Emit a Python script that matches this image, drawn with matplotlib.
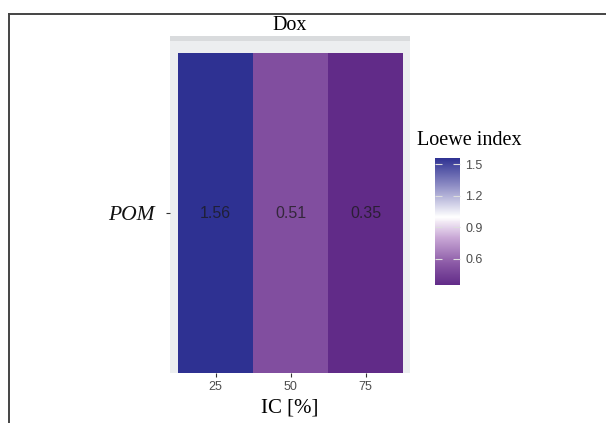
import numpy as np
import matplotlib
matplotlib.use("Agg")
import matplotlib.pyplot as plt
from matplotlib.colors import LinearSegmentedColormap, Normalize
from matplotlib.patches import Rectangle
from matplotlib.lines import Line2D
import matplotlib.colorbar as mcolorbar

# data
ic_levels = ["25", "50", "75"]
drug_row = ["POM"]
loewe = [1.56, 0.51, 0.35]
cbar_ticks = [0.6, 0.9, 1.2, 1.5]

W, H = 606, 423
fig = plt.figure(figsize=(W / 100, H / 100), dpi=100)

# colour scale: purple (low) -> white (1) -> indigo (high)
vmin, vmax = min(loewe), max(loewe)
norm = Normalize(vmin=vmin, vmax=vmax)
anchors = [(vmin, "#612b88"), (0.55, "#8a58a5"), (0.8, "#c9a8d6"),
           (1.0, "#ffffff"), (1.3, "#8d8cc4"), (vmax, "#2e3192")]
cmap = LinearSegmentedColormap.from_list(
    "loewe", [(float(norm(v)), c) for v, c in anchors])

def fx(px):
    return px / W

def fy(py):
    return 1 - py / H

# outer frame (top and left lines only)
fig.add_artist(Line2D([fx(9), 1], [fy(14), fy(14)], color="#444444", lw=1.4))
fig.add_artist(Line2D([fx(9), fx(9)], [fy(14), 0], color="#444444", lw=1.4))

# panel
ax = fig.add_axes([fx(170), fy(373), fx(410) - fx(170), fy(40) - fy(373)])
ax.set_facecolor("#eceef0")
x_edges = np.arange(len(ic_levels) + 1) + 0.5
y_edges = np.array([0.5, 1.5])
ax.pcolormesh(x_edges, y_edges, np.array([loewe]), cmap=cmap, norm=norm)
for i, v in enumerate(loewe):
    ax.text(i + 1, 1, f"{v:.2f}", ha="center", va="center", fontsize=11.5,
            color="#1a1a1a", alpha=0.75, family="Liberation Sans")
ax.set_xlim(0.393, 3.593)
ax.set_ylim(0.5, 1.541)
for s in ax.spines.values():
    s.set_visible(False)
ax.set_xticks(range(1, len(ic_levels) + 1))
ax.set_xticklabels(ic_levels, fontsize=9, color="#4d4d4d", family="Liberation Sans")
ax.set_yticks([1])
ax.set_yticklabels(drug_row, fontsize=15.5, style="italic", family="Liberation Serif",
                   color="#111111")
ax.tick_params(axis="x", length=3, color="#333333", pad=3)
ax.tick_params(axis="y", length=3, color="#333333", pad=8)
ax.set_xlabel("IC [%]", fontsize=15, family="Liberation Serif", labelpad=4)

# facet strip
fig.add_artist(Rectangle((fx(170), fy(41)), fx(410) - fx(170), fy(36) - fy(41),
                         transform=fig.transFigure, color="#d9dbdd", lw=0))
fig.text(fx(290), fy(25), "Dox", ha="center", va="center", fontsize=14.5,
         family="Liberation Serif")

# colour bar
cax = fig.add_axes([fx(435), fy(285), fx(460) - fx(435), fy(158) - fy(285)])
cb = mcolorbar.ColorbarBase(cax, cmap=cmap, norm=norm, orientation="vertical")
cb.outline.set_visible(False)
cb.set_ticks(cbar_ticks)
cb.set_ticklabels([f"{t:.1f}" for t in cbar_ticks])
cax.tick_params(direction="in", length=5, color="#dddddd", width=0.8,
                left=True, right=True, labelsize=9, labelcolor="#4d4d4d", pad=4)
for lab in cax.get_yticklabels():
    lab.set_family("Liberation Sans")
fig.text(fx(417), fy(140), "Loewe index", ha="left", va="center", fontsize=14.5,
         family="Liberation Serif")

fig.savefig("out.png", dpi=100)
